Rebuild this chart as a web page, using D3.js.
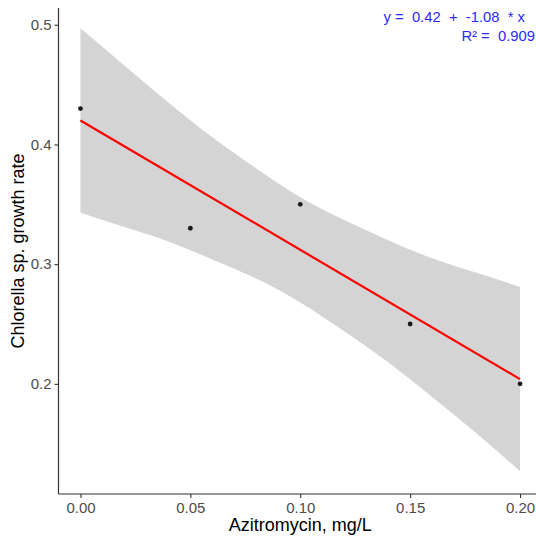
<!DOCTYPE html>
<html>
<head>
<meta charset="utf-8">
<script src="https://cdn.jsdelivr.net/npm/d3@7/dist/d3.min.js"></script>
<style>
html,body{margin:0;padding:0;background:#fff;overflow:hidden;}
text{font-family:"Liberation Sans",Arial,sans-serif;}
</style>
</head>
<body>
<svg id="chart" width="536" height="536"></svg>
<script>
// Data
const doses = [0.00, 0.05, 0.10, 0.15, 0.20];
const growth = [0.43, 0.33, 0.35, 0.25, 0.20];
// Fitted line endpoints (read: y = 0.42 - 1.08x)
const fitX = [0.00, 0.20];
const fitY = [0.420, 0.204];
// Confidence band
const bandX = [0.00, 0.02, 0.04, 0.06, 0.08, 0.10, 0.12, 0.14, 0.16, 0.18, 0.20];
const bandLow = [0.343, 0.331, 0.319, 0.304, 0.288, 0.268, 0.244, 0.218, 0.189, 0.159, 0.127];
const bandHigh = [0.497, 0.466, 0.435, 0.406, 0.380, 0.356, 0.337, 0.320, 0.305, 0.293, 0.281];
const xTicks = [0.00, 0.05, 0.10, 0.15, 0.20];
const yTicks = [0.2, 0.3, 0.4, 0.5];
const eqLines = ["y =  0.42  +  -1.08  * x", "R\u00b2 =  0.909"];

const svg = d3.select("#chart");
const pLeft = 58.5, pRight = 542, pTop = 8, pBottom = 494;
const x = d3.scaleLinear().domain([-0.01, 0.21]).range([pLeft, pRight]);
const y = d3.scaleLinear().domain([0.108, 0.514]).range([pBottom, pTop]);

// band
const area = d3.area()
  .x((d, i) => x(bandX[i]))
  .y0((d, i) => y(bandLow[i]))
  .y1((d, i) => y(bandHigh[i]))
  .curve(d3.curveNatural);
svg.append("path").datum(bandX).attr("d", area)
  .attr("fill", "#999999").attr("fill-opacity", 0.42);

// points
svg.selectAll("circle.pt").data(doses).enter().append("circle")
  .attr("class", "pt")
  .attr("cx", (d) => x(d))
  .attr("cy", (d, i) => y(growth[i]))
  .attr("r", 2.4).attr("fill", "#1a1a1a");

// fit line
const line = d3.line().x((d, i) => x(fitX[i])).y((d, i) => y(fitY[i]));
svg.append("path").datum(fitX).attr("d", line)
  .attr("stroke", "#ff0000").attr("stroke-width", 2.2).attr("fill", "none");

// axes
const yAxis = svg.append("g").attr("transform", `translate(${pLeft},0)`)
  .call(d3.axisLeft(y).tickValues(yTicks).tickSize(4).tickPadding(3).tickFormat(d3.format(".1f")));
const xAxis = svg.append("g").attr("transform", `translate(0,${pBottom})`)
  .call(d3.axisBottom(x).tickValues(xTicks).tickSize(4).tickPadding(4).tickFormat(d3.format(".2f")));
[yAxis, xAxis].forEach(g => {
  g.select(".domain").remove();
  g.selectAll(".tick line").attr("stroke", "#333333").attr("stroke-width", 1.1);
  g.selectAll(".tick text").attr("fill", "#4d4d4d").style("font-size", "15px");
});
svg.append("line").attr("x1", pLeft).attr("x2", pLeft).attr("y1", pTop).attr("y2", pBottom)
  .attr("stroke", "#333333").attr("stroke-width", 1.2);
svg.append("line").attr("x1", pLeft).attr("x2", pRight).attr("y1", pBottom).attr("y2", pBottom)
  .attr("stroke", "#333333").attr("stroke-width", 1.2);

// axis titles
svg.append("text").attr("x", x(0.10)).attr("y", 531).attr("text-anchor", "middle")
  .style("font-size", "18px").attr("fill", "#000").text("Azitromycin, mg/L");
svg.append("text").attr("transform", `translate(24,${(pTop + pBottom) / 2}) rotate(-90)`)
  .attr("text-anchor", "middle").style("font-size", "18px").attr("fill", "#000")
  .text("Chlorella sp. growth rate");

// equation
const eqRight = [525, 535];
const eqBase = [22, 41];
eqLines.forEach((t, i) => {
  svg.append("text").attr("x", eqRight[i]).attr("y", eqBase[i]).attr("text-anchor", "end")
    .attr("xml:space", "preserve").style("white-space", "pre")
    .style("font-size", "14.8px").attr("fill", "#2a2aff").text(t);
});
</script>
</body>
</html>
